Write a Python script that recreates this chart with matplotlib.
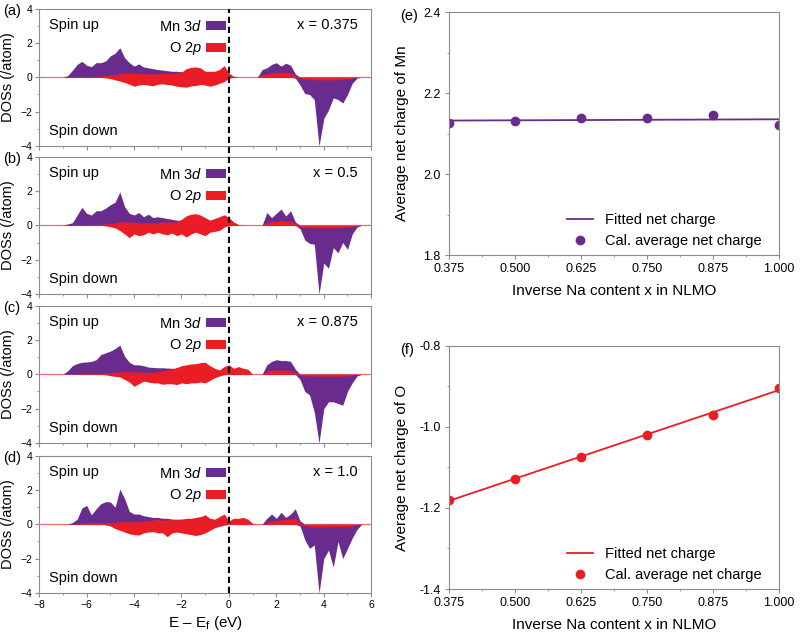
import numpy as np
import matplotlib
matplotlib.use("Agg")
import matplotlib.pyplot as plt
from matplotlib.patches import Patch
from matplotlib.lines import Line2D
from matplotlib.transforms import blended_transform_factory

plt.rcParams['font.family'] = ['Liberation Sans', 'DejaVu Sans']
plt.rcParams['mathtext.fontset'] = 'custom'
plt.rcParams['mathtext.rm'] = 'Liberation Sans'
plt.rcParams['mathtext.it'] = 'Liberation Sans:italic'

# energy grid (eV), -7.0 ... 6.0 in 0.2 steps (66 points)
energy = np.linspace(-7.0, 6.0, 66)

# ---- (a) x = 0.375 ----
mn_up_a = [0, 0.1, 0.4, 0.75, 0.93, 0.7, 0.62, 0.85, 0.85, 0.95, 1.25,
           1.4, 1.72, 1.15, 0.85, 0.65, 0.78, 0.6, 0.55, 0.5, 0.45, 0.42,
           0.38, 0.35, 0.35, 0.32, 0.3, 0.3, 0.3, 0.25, 0.25, 0.25, 0.25,
           0.25, 0.3, 0.15, 0.05, 0, 0, 0, 0, 0, 0.45, 0.55,
           0.75, 0.85, 0.65, 0.82, 0.7, 0.2, 0, 0, 0, 0, 0,
           0, 0, 0, 0, 0, 0, 0, 0, 0, 0, 0]
mn_dn_a = [0] * 49 + [-0.05, -0.45, -0.95, -1.0, -1.3, -4.0,
                      -2.4, -1.9, -1.2, -1.3, -1.5, -1.0, -0.35, -0.05, 0, 0, 0]
o_up_a = [0, 0, 0.02, 0.05, 0.05, 0.05, 0.05, 0.05, 0.08, 0.1, 0.12,
          0.15, 0.2, 0.25, 0.25, 0.25, 0.2, 0.2, 0.2, 0.2, 0.2, 0.2,
          0.25, 0.2, 0.25, 0.3, 0.5, 0.58, 0.6, 0.55, 0.35, 0.35, 0.35,
          0.45, 0.68, 0.25, 0.05, 0, 0, 0, 0, 0, 0.15, 0.2,
          0.25, 0.25, 0.3, 0.3, 0.25, 0.1, 0, 0, 0, 0, 0,
          0, 0, 0, 0, 0, 0, 0, 0, 0, 0, 0]
o_dn_a = [0, 0, 0, 0, 0, 0, 0, 0, 0, -0.03, -0.08,
          -0.15, -0.22, -0.3, -0.4, -0.52, -0.45, -0.42, -0.45, -0.5, -0.4, -0.38,
          -0.42, -0.45, -0.52, -0.55, -0.58, -0.5, -0.48, -0.42, -0.45, -0.52, -0.45,
          -0.35, -0.25, -0.05, 0, 0, 0, 0, 0, 0, 0, 0,
          0, 0, 0, 0, 0, 0, -0.05, -0.1, -0.12, -0.15, -0.15,
          -0.15, -0.15, -0.15, -0.15, -0.12, -0.1, -0.05, 0, 0, 0, 0]

# ---- (b) x = 0.5 ----
mn_up_b = [0, 0.08, 0.15, 0.6, 1.05, 0.7, 0.6, 0.85, 0.85, 1.0, 1.2,
           1.35, 1.95, 1.1, 0.7, 0.6, 0.75, 0.5, 0.65, 0.45, 0.5, 0.45,
           0.4, 0.35, 0.3, 0.3, 0.3, 0.3, 0.25, 0.25, 0.25, 0.25, 0.25,
           0.25, 0.3, 0.15, 0.05, 0, 0, 0, 0, 0, 0, 0.75,
           0.45, 0.7, 0.95, 0.55, 0.85, 0.2, 0, 0, 0, 0, 0,
           0, 0, 0, 0, 0, 0, 0, 0, 0, 0, 0]
mn_dn_b = [0] * 49 + [0, -0.2, -0.85, -1.05, -1.1, -4.0,
                      -2.2, -2.5, -1.3, -1.6, -1.0, -1.4, -0.5, -0.1, 0, 0, 0]
o_up_b = [0, 0, 0, 0.05, 0.05, 0.05, 0.05, 0.05, 0.05, 0.08, 0.1,
          0.15, 0.22, 0.2, 0.2, 0.18, 0.15, 0.15, 0.15, 0.15, 0.15, 0.2,
          0.2, 0.2, 0.2, 0.35, 0.55, 0.65, 0.68, 0.6, 0.45, 0.3, 0.4,
          0.5, 0.62, 0.45, 0.2, 0.05, 0, 0, 0, 0, 0, 0.15,
          0.25, 0.2, 0.3, 0.25, 0.25, 0.1, 0, 0, 0, 0, 0,
          0, 0, 0, 0, 0, 0, 0, 0, 0, 0, 0]
o_dn_b = [0, 0, 0, 0, 0, 0, 0, 0, 0, -0.03, -0.08,
          -0.15, -0.3, -0.5, -0.72, -0.5, -0.6, -0.55, -0.4, -0.5, -0.4, -0.5,
          -0.55, -0.45, -0.6, -0.5, -0.68, -0.5, -0.4, -0.5, -0.6, -0.4, -0.35,
          -0.3, -0.1, 0, 0, 0, 0, 0, 0, 0, 0, 0,
          0, 0, 0, 0, 0, 0, -0.08, -0.12, -0.15, -0.15, -0.15,
          -0.15, -0.15, -0.15, -0.15, -0.12, -0.1, -0.08, -0.02, 0, 0, 0]

# ---- (c) x = 0.875 ----
mn_up_c = [0, 0.2, 0.5, 0.63, 0.7, 0.72, 0.75, 0.85, 1.15, 1.25, 1.35,
           1.5, 1.7, 1.05, 0.7, 0.55, 0.55, 0.5, 0.42, 0.4, 0.38, 0.38,
           0.36, 0.35, 0.35, 0.33, 0.3, 0.3, 0.3, 0.28, 0.25, 0.25, 0.25,
           0.2, 0.2, 0.15, 0.1, 0.05, 0, 0, 0, 0, 0, 0.55,
           0.75, 0.85, 0.8, 0.8, 0.75, 0.3, 0, 0, 0, 0, 0,
           0, 0, 0, 0, 0, 0, 0, 0, 0, 0, 0]
mn_dn_c = [0] * 49 + [0, -0.3, -1.0, -1.2, -2.2, -4.0,
                      -2.0, -1.6, -1.6, -1.7, -1.8, -1.0, -0.5, -0.1, 0, 0, 0]
o_up_c = [0, 0, 0, 0, 0.03, 0.03, 0.05, 0.05, 0.05, 0.08, 0.1,
          0.12, 0.15, 0.15, 0.15, 0.15, 0.15, 0.12, 0.12, 0.12, 0.15, 0.2,
          0.25, 0.3, 0.4, 0.5, 0.55, 0.6, 0.62, 0.68, 0.7, 0.5, 0.35,
          0.25, 0.45, 0.55, 0.35, 0.45, 0.35, 0.3, 0, 0, 0, 0.15,
          0.25, 0.25, 0.25, 0.25, 0.2, 0.1, 0, 0, 0, 0, 0,
          0, 0, 0, 0, 0, 0, 0, 0, 0, 0, 0]
o_dn_c = [0, 0, 0, 0, 0, 0, 0, 0, 0, -0.03, -0.08,
          -0.12, -0.15, -0.3, -0.45, -0.7, -0.55, -0.4, -0.45, -0.5, -0.5, -0.58,
          -0.55, -0.55, -0.6, -0.5, -0.55, -0.5, -0.5, -0.45, -0.5, -0.35, -0.2,
          -0.1, -0.02, 0, 0, 0, 0, 0, 0, 0, 0, 0,
          0, 0, 0, 0, 0, 0, -0.05, -0.08, -0.1, -0.1, -0.1,
          -0.1, -0.1, -0.12, -0.12, -0.1, -0.1, -0.05, 0, 0, 0, 0]

# ---- (d) x = 1.0 ----
mn_up_d = [0, 0, 0.1, 0.3, 0.95, 1.1, 0.55, 0.9, 1.2, 1.32, 1.3,
           1.0, 2.05, 1.5, 0.75, 0.6, 0.6, 0.5, 0.45, 0.4, 0.4, 0.35,
           0.35, 0.3, 0.3, 0.3, 0.25, 0.25, 0.25, 0.25, 0.2, 0.2, 0.2,
           0.2, 0.2, 0.1, 0.05, 0, 0, 0, 0, 0, 0, 0.35,
           0.6, 0.35, 0.7, 0.4, 0.6, 0.9, 0.2, 0, 0, 0, 0,
           0, 0, 0, 0, 0, 0, 0, 0, 0, 0, 0]
mn_dn_d = [0] * 49 + [0, -0.1, -0.9, -1.4, -1.2, -4.0,
                      -2.0, -1.5, -2.5, -1.0, -2.0, -1.4, -0.8, -0.3, 0, 0, 0]
o_up_d = [0, 0, 0, 0.05, 0.08, 0.1, 0.1, 0.1, 0.1, 0.1, 0.1,
          0.12, 0.15, 0.15, 0.15, 0.15, 0.15, 0.2, 0.2, 0.25, 0.3, 0.25,
          0.25, 0.3, 0.25, 0.3, 0.35, 0.35, 0.4, 0.45, 0.55, 0.35, 0.3,
          0.45, 0.6, 0.2, 0.35, 0.35, 0.4, 0.3, 0.05, 0, 0, 0.1,
          0.2, 0.2, 0.25, 0.3, 0.3, 0.35, 0.1, 0, 0, 0, 0,
          0, 0, 0, 0, 0, 0, 0, 0, 0, 0, 0]
o_dn_d = [0, 0, 0, 0, 0, 0, 0, 0, 0, -0.03, -0.1,
          -0.25, -0.35, -0.45, -0.55, -0.6, -0.62, -0.5, -0.45, -0.42, -0.5, -0.5,
          -0.72, -0.5, -0.45, -0.5, -0.55, -0.6, -0.65, -0.6, -0.5, -0.35, -0.2,
          -0.12, -0.05, 0, 0, 0, 0, 0, 0, 0, 0, 0,
          0, 0, 0, 0, 0, 0, -0.02, -0.08, -0.12, -0.15, -0.15,
          -0.15, -0.12, -0.15, -0.12, -0.15, -0.12, -0.1, -0.05, 0, 0, 0]

panel_tags = ["(a)", "(b)", "(c)", "(d)"]
panel_x = ["x = 0.375", "x = 0.5", "x = 0.875", "x = 1.0"]
dos_sets = [(mn_up_a, mn_dn_a, o_up_a, o_dn_a),
            (mn_up_b, mn_dn_b, o_up_b, o_dn_b),
            (mn_up_c, mn_dn_c, o_up_c, o_dn_c),
            (mn_up_d, mn_dn_d, o_up_d, o_dn_d)]

# ---- (e), (f) net charges ----
inv_na = [0.375, 0.5, 0.625, 0.75, 0.875, 1.0]
charge_mn = [2.126, 2.131, 2.139, 2.139, 2.145, 2.122]
charge_o = [-1.180, -1.128, -1.074, -1.020, -0.970, -0.903]

purple = "#6a2b8e"
red = "#ec1c24"
spine_gray = "#8c8c8c"

fig = plt.figure(figsize=(8, 6.33), dpi=100)

# left DOS panels
left_bottoms = [0.7694, 0.5355, 0.3002, 0.0632]
left_axes = []
for k in range(4):
    ax = fig.add_axes([0.049, left_bottoms[k], 0.415, 0.217])
    mn_up, mn_dn, o_up, o_dn = dos_sets[k]
    ax.axhline(0, color="#f26a6a", lw=0.9, zorder=1)
    ax.fill_between(energy, 0, mn_up, color=purple, lw=0, zorder=2)
    ax.fill_between(energy, 0, mn_dn, color=purple, lw=0, zorder=2)
    ax.fill_between(energy, 0, o_up, color=red, lw=0, zorder=3)
    ax.fill_between(energy, 0, o_dn, color=red, lw=0, zorder=3)
    ax.set_xlim(-8, 6)
    ax.set_ylim(-4, 4)
    ax.set_xticks(range(-8, 7, 2))
    ax.set_xticks(range(-7, 6, 2), minor=True)
    ax.set_yticks([-4, -2, 0, 2, 4])
    ax.set_yticks([-3, -1, 1, 3], minor=True)
    ax.tick_params(which="both", direction="out", color=spine_gray, labelsize=7.5, pad=2)
    ax.tick_params(which="major", length=3)
    ax.tick_params(which="minor", length=1.5)
    if k < 3:
        ax.tick_params(axis="x", labelbottom=False)
    for s in ax.spines.values():
        s.set_color(spine_gray)
    ax.set_ylabel("DOSs (/atom)", fontsize=10.5)
    ax.yaxis.set_label_coords(-0.072, 0.5)
    ax.text(0.03, 0.88, "Spin up", transform=ax.transAxes, fontsize=10.5, va="center")
    ax.text(0.03, 0.11, "Spin down", transform=ax.transAxes, fontsize=10.5, va="center")
    ax.text(0.96, 0.88, panel_x[k], transform=ax.transAxes, fontsize=10.5,
            va="center", ha="right")
    ax.text(-0.108, 0.98, panel_tags[k], transform=ax.transAxes, fontsize=10.5, va="center")
    handles = [Patch(facecolor=purple, edgecolor="none"), Patch(facecolor=red, edgecolor="none")]
    ax.legend(handles, ["Mn 3$\\it{d}$", "O 2$\\it{p}$"], loc="upper left",
              bbox_to_anchor=(0.33, 1.0), markerfirst=False, frameon=False,
              fontsize=10.5, handlelength=1.35, handleheight=0.6,
              handletextpad=0.3, labelspacing=0.45, borderaxespad=0.3)
    left_axes.append(ax)

left_axes[-1].set_xlabel("E \u2013 E$_\\mathrm{f}$ (eV)", fontsize=11, labelpad=3)

# dashed Fermi level line through all left panels
trans = blended_transform_factory(left_axes[-1].transData, fig.transFigure)
fig.add_artist(Line2D([0, 0], [0.0632, 0.9858], transform=trans, color="black",
                      lw=1.5, linestyle=(0, (3, 1.8)), zorder=10))

# right panels
right_specs = [
    (0.597, charge_mn, purple, "Average net charge of Mn", (1.8, 2.4), [1.8, 2.0, 2.2, 2.4], "(e)"),
    (0.0695, charge_o, red, "Average net charge of O", (-1.4, -0.8), [-1.4, -1.2, -1.0, -0.8], "(f)"),
]
for bottom, charge, col, ylab, ylim, yt, tag in right_specs:
    ax = fig.add_axes([0.561, bottom, 0.4125, 0.384])
    coef = np.polyfit(inv_na, charge, 1)
    ax.plot(inv_na, np.polyval(coef, inv_na), color=col, lw=1.3, label="Fitted net charge")
    ax.plot(inv_na, charge, "o", color=col, ms=6, label="Cal. average net charge")
    ax.set_xlim(0.375, 1.0)
    ax.set_ylim(*ylim)
    ax.set_xticks(inv_na)
    ax.set_xticklabels([f"{v:.3f}" for v in inv_na])
    ax.set_xticks([0.4375, 0.5625, 0.6875, 0.8125, 0.9375], minor=True)
    ax.set_yticks(yt)
    ax.set_yticklabels([f"{v:.1f}" for v in yt])
    ax.set_yticks([yt[0] + 0.1, yt[1] + 0.1, yt[2] + 0.1], minor=True)
    ax.tick_params(which="both", direction="out", color=spine_gray, labelsize=9, pad=3)
    ax.tick_params(which="major", length=3)
    ax.tick_params(which="minor", length=1.5)
    for s in ax.spines.values():
        s.set_color(spine_gray)
    ax.set_ylabel(ylab, fontsize=11)
    ax.yaxis.set_label_coords(-0.121, 0.5)
    ax.set_xlabel("Inverse Na content x in NLMO", fontsize=11, labelpad=6)
    ax.text(-0.148, 0.985, tag, transform=ax.transAxes, fontsize=10.5, va="center")
    ax.legend(loc="lower right", frameon=False, fontsize=10.5, numpoints=1,
              handlelength=1.8, handletextpad=0.8, labelspacing=0.45,
              bbox_to_anchor=(0.97, 0.0), borderaxespad=0.1)

fig.savefig("out.png", dpi=100)
